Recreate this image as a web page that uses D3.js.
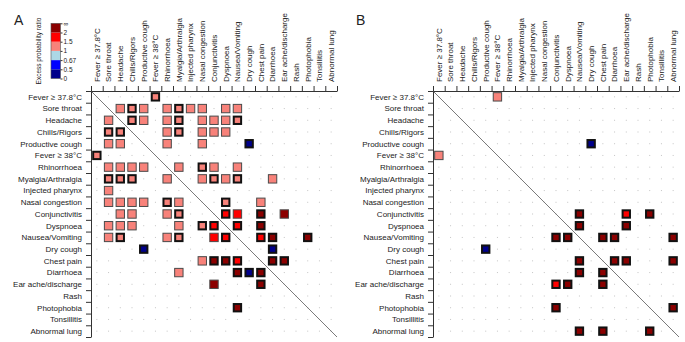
<!DOCTYPE html>
<html>
<head>
<meta charset="utf-8">
<script src="https://cdn.jsdelivr.net/npm/d3@7"></script>
<style>
    body { margin: 0; background: #fff; }
    text { font-family: 'Liberation Sans', Arial, sans-serif; fill: #222; }
</style>
</head>
<body>
<div id="chart"></div>
<script>
// symptom list, same order on both axes
const symptoms = [
    'Fever ≥ 37.8°C', 'Sore throat', 'Headache', 'Chills/Rigors', 'Productive cough',
    'Fever ≥ 38°C', 'Rhinorrhoea', 'Myalgia/Arthralgia', 'Injected pharynx', 'Nasal congestion',
    'Conjunctivitis', 'Dyspnoea', 'Nausea/Vomiting', 'Dry cough', 'Chest pain',
    'Diarrhoea', 'Ear ache/discharge', 'Rash', 'Photophobia', 'Tonsillitis', 'Abnormal lung'
];

// colour key
const legendBreaks = [0.5, 0.67, 1, 1.5, 2];
const legendLabels = ['0', '0.5', '0.67', '1', '1.5', '2', '∞'];
const legendColors = ['#00008b', '#0000ff', '#add8e6', '#f8827a', '#ff0000', '#8b0000'];

// [row symptom index, column symptom index, excess probability ratio, significant]
// matrices are symmetric, only upper triangle listed
const panelA = [
    [0, 5, 1.3, true],
    [1, 2, 1.3, false], [1, 3, 1.3, true], [1, 4, 1.3, false], [1, 6, 1.3, false], [1, 7, 1.3, true],
    [1, 8, 1.3, false], [1, 9, 1.3, false], [1, 11, 1.3, false], [1, 12, 1.3, false],
    [2, 3, 1.3, true], [2, 4, 1.3, false], [2, 6, 1.3, false], [2, 7, 1.3, true], [2, 9, 1.3, false],
    [2, 10, 1.3, false], [2, 11, 1.3, false], [2, 12, 1.3, true],
    [3, 6, 1.3, false], [3, 7, 1.3, true], [3, 9, 1.3, false], [3, 10, 1.3, false], [3, 11, 1.3, false],
    [4, 6, 1.3, false], [4, 9, 1.3, false], [4, 13, 0.3, true],
    [6, 7, 1.3, false], [6, 9, 1.3, true], [6, 10, 1.3, false], [6, 12, 1.3, false],
    [7, 9, 1.3, false], [7, 10, 1.3, true], [7, 11, 1.3, false], [7, 12, 1.3, true], [7, 15, 1.3, false],
    [9, 11, 1.3, true], [9, 14, 1.3, false],
    [10, 11, 1.8, true], [10, 12, 1.8, false], [10, 14, 2.5, true], [10, 16, 2.5, false],
    [11, 12, 1.8, true], [11, 14, 2.5, true],
    [12, 14, 1.8, true], [12, 15, 2.5, true], [12, 18, 2.5, true],
    [13, 15, 0.3, true],
    [14, 15, 2.5, true], [14, 16, 2.5, true]
];

const panelB = [
    [0, 5, 1.3, false],
    [4, 13, 0.3, true],
    [10, 12, 2.5, true], [10, 16, 1.8, true], [10, 18, 2.5, true],
    [11, 12, 2.5, true], [11, 16, 2.5, true],
    [12, 14, 2.5, true], [12, 15, 2.5, true], [12, 20, 2.5, true],
    [14, 15, 2.5, true], [14, 16, 2.5, true], [14, 20, 2.5, true],
    [18, 20, 2.5, true]
];

const config = {
    width: 685,
    height: 342,
    top: 91,
    size: 246,
    labelGap: 9
};

const svg = d3.select('#chart')
    .append('svg')
    .attr('width', config.width)
    .attr('height', config.height)
    ;

const color = d3.scaleThreshold()
    .domain(legendBreaks)
    .range(legendColors)
    ;

function drawPanel(left, pairs, letter, letterX) {
    let g = svg.append('g');

    let x = d3.scaleBand()
        .domain(symptoms)
        .range([left, left + config.size])
        ;
    let y = d3.scaleBand()
        .domain(symptoms)
        .range([config.top, config.top + config.size])
        ;
    // tick marks sit on cell edges
    let edgeX = d3.scaleLinear().domain([0, symptoms.length]).range([left, left + config.size]);
    let edgeY = d3.scaleLinear().domain([0, symptoms.length]).range([config.top, config.top + config.size]);

    // both halves of the symmetric matrix
    let cells = [];
    pairs.forEach(p => {
        cells.push({ row: symptoms[p[0]], col: symptoms[p[1]], ratio: p[2], sig: p[3] });
        cells.push({ row: symptoms[p[1]], col: symptoms[p[0]], ratio: p[2], sig: p[3] });
    });
    let filled = new Set(cells.map(d => d.row + '|' + d.col));

    let empty = [];
    symptoms.forEach(r => {
        symptoms.forEach(c => {
            if (!filled.has(r + '|' + c)) { empty.push({ row: r, col: c }); }
        });
    });

    g.selectAll('.dot')
        .data(empty)
        .enter()
        .append('rect')
        .attr('class', 'dot')
        .attr('x', d => { return x(d.col) + x.bandwidth() / 2 - 0.5; })
        .attr('y', d => { return y(d.row) + y.bandwidth() / 2 - 0.5; })
        .attr('width', 1)
        .attr('height', 1)
        .attr('fill', '#c4c4c4')
        ;

    g.append('line')
        .attr('x1', left)
        .attr('y1', config.top)
        .attr('x2', left + config.size)
        .attr('y2', config.top + config.size)
        .attr('stroke', '#7a7a7a')
        .attr('stroke-width', 1)
        ;

    let outer = x.bandwidth() * 0.8;
    g.selectAll('.cell')
        .data(cells)
        .enter()
        .append('rect')
        .attr('class', 'cell')
        .attr('x', d => {
            let sw = d.sig ? 2 : 1;
            return x(d.col) + (x.bandwidth() - outer) / 2 + sw / 2;
        })
        .attr('y', d => {
            let sw = d.sig ? 2 : 1;
            return y(d.row) + (y.bandwidth() - outer) / 2 + sw / 2;
        })
        .attr('width', d => { return outer - (d.sig ? 2 : 1); })
        .attr('height', d => { return outer - (d.sig ? 2 : 1); })
        .attr('fill', d => { return color(d.ratio); })
        .attr('stroke', d => { return d.sig ? '#111' : '#4a4a4a'; })
        .attr('stroke-width', d => { return d.sig ? 2 : 1; })
        ;

    let topAxis = d3.axisTop(edgeX)
        .tickValues(d3.range(symptoms.length + 1))
        .tickFormat('')
        .tickSize(5)
        .tickSizeOuter(0)
        ;
    let leftAxis = d3.axisLeft(edgeY)
        .tickValues(d3.range(symptoms.length + 1))
        .tickFormat('')
        .tickSize(5)
        .tickSizeOuter(0)
        ;
    g.append('g')
        .attr('transform', `translate(0, ${config.top})`)
        .call(topAxis)
        .call(a => a.selectAll('path, line').attr('stroke', '#333'))
        ;
    g.append('g')
        .attr('transform', `translate(${left}, 0)`)
        .call(leftAxis)
        .call(a => a.selectAll('path, line').attr('stroke', '#333'))
        ;

    g.selectAll('.col-label')
        .data(symptoms)
        .enter()
        .append('text')
        .attr('class', 'col-label')
        .attr('transform', d => { return `translate(${x(d) + x.bandwidth() / 2}, ${config.top - config.labelGap}) rotate(-90)`; })
        .attr('dy', '0.35em')
        .style('font-size', '8px')
        .text(d => d)
        ;

    g.selectAll('.row-label')
        .data(symptoms)
        .enter()
        .append('text')
        .attr('class', 'row-label')
        .attr('x', left - config.labelGap)
        .attr('y', d => { return y(d) + y.bandwidth() / 2; })
        .attr('dy', '0.35em')
        .attr('text-anchor', 'end')
        .style('font-size', '8px')
        .text(d => d)
        ;

    svg.append('text')
        .attr('x', letterX)
        .attr('y', 25)
        .style('font-size', '14px')
        .text(letter)
        ;
}

function drawLegend() {
    let ly = d3.scaleLinear()
        .domain([0, legendColors.length])
        .range([78.5, 23.3])
        ;
    let lg = svg.append('g');

    lg.selectAll('rect')
        .data(legendColors)
        .enter()
        .append('rect')
        .attr('x', 51)
        .attr('y', (d, i) => { return ly(i + 1); })
        .attr('width', 9.5)
        .attr('height', (d, i) => { return ly(i) - ly(i + 1); })
        .attr('fill', d => d)
        ;
    lg.append('rect')
        .attr('x', 51)
        .attr('y', ly(legendColors.length))
        .attr('width', 9.5)
        .attr('height', ly(0) - ly(legendColors.length))
        .attr('fill', 'none')
        .attr('stroke', '#555')
        .attr('stroke-width', 0.6)
        ;

    let legendAxis = d3.axisRight(ly)
        .tickValues(d3.range(legendLabels.length))
        .tickFormat(i => legendLabels[i])
        .tickSize(2)
        .tickSizeOuter(0)
        ;
    lg.append('g')
        .attr('transform', 'translate(60.5, 0)')
        .call(legendAxis)
        .call(a => a.select('.domain').remove())
        .call(a => a.selectAll('line').attr('stroke', '#333'))
        .call(a => a.selectAll('text').style('font-size', '6.5px').attr('x', 3).attr('fill', '#222'))
        ;

    lg.append('text')
        .attr('transform', 'translate(41, 51) rotate(-90)')
        .attr('text-anchor', 'middle')
        .style('font-size', '6.5px')
        .text('Excess probability ratio')
        ;
}

drawPanel(91, panelA, 'A', 14);
drawPanel(433, panelB, 'B', 356);
drawLegend();
</script>
</body>
</html>
